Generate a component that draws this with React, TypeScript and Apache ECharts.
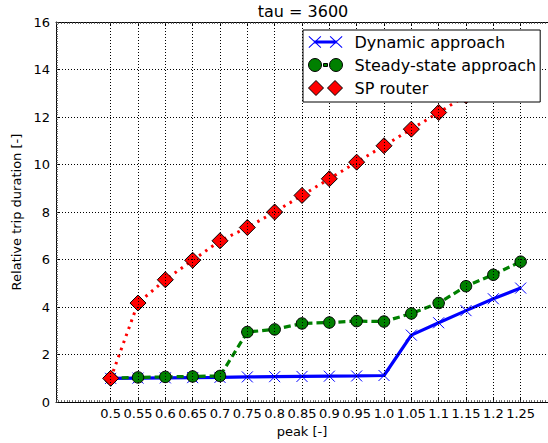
import React, { useEffect, useRef } from "react";
import * as echarts from "echarts";

const categories = ["0.5", "0.55", "0.6", "0.65", "0.7", "0.75", "0.8", "0.85", "0.9", "0.95", "1.0", "1.05", "1.1", "1.15", "1.2", "1.25"];
const dynamicApproach = [1.0, 1.01, 1.02, 1.03, 1.04, 1.06, 1.07, 1.08, 1.09, 1.1, 1.12, 2.82, 3.34, 3.85, 4.35, 4.8];
const steadyState = [1.0, 1.04, 1.06, 1.08, 1.1, 2.95, 3.06, 3.31, 3.35, 3.41, 3.39, 3.73, 4.17, 4.88, 5.36, 5.91];
const spRouter = [1.0, 4.17, 5.15, 5.97, 6.79, 7.35, 8.0, 8.7, 9.4, 10.1, 10.79, 11.49, 12.19, 12.9, 13.6, 14.3];
const yTicks = { min: 0, max: 16, interval: 2 };

const PAD_LEFT = ["_a", "_b"];
const PAD_RIGHT = ["_z"];

const FONT = "DejaVu Sans";

const ICON_DYN =
  "path://M6,6.5 L28,6.5 L28,9.5 L6,9.5 Z " +
  "M0.2,2.7 L0.9,2 L12.8,13.3 L12.1,14 Z M12.1,2 L12.8,2.7 L0.9,14 L0.2,13.3 Z " +
  "M21.2,2.7 L21.9,2 L33.8,13.3 L33.1,14 Z M33.1,2 L33.8,2.7 L21.9,14 L21.2,13.3 Z";
const ICON_STEADY =
  "path://M0,8 A6.5,6.5 0 1,0 13,8 A6.5,6.5 0 1,0 0,8 Z " +
  "M15,6.5 L19,6.5 L19,9.5 L15,9.5 Z " +
  "M21,8 A6.5,6.5 0 1,0 34,8 A6.5,6.5 0 1,0 21,8 Z";
const ICON_SP =
  "path://M0,8 L7.5,0.5 L15,8 L7.5,15.5 Z M19,8 L26.5,0.5 L34,8 L26.5,15.5 Z";

function pad(arr: number[]) {
  return [...PAD_LEFT.map(() => null), ...arr, ...PAD_RIGHT.map(() => null)];
}

export default function App() {
  const ref = useRef<HTMLDivElement>(null);
  useEffect(() => {
    if (!ref.current) return;
    const chart = echarts.init(ref.current, null, { renderer: "svg" });
    const axisCats = [...PAD_LEFT, ...categories, ...PAD_RIGHT];
    const isReal = (_i: number, v: string) => !String(v).startsWith("_");
    const dotted = { color: "#000", width: 1, type: [1, 2] as any };
    const minorAxisCommon = {
      type: "value" as const,
      min: 0,
      interval: 1,
      axisLabel: { show: false },
      splitLine: { show: false },
      axisLine: { show: false, onZero: false },
      axisTick: { show: true, inside: true, length: 2, lineStyle: { color: "#444", width: 0.8 } },
      z: 3,
      silent: true,
    };
    chart.setOption({
      animation: false,
      backgroundColor: "#fff",
      title: {
        text: "tau = 3600",
        left: 303,
        top: 3,
        padding: 0,
        textAlign: "center",
        textStyle: { fontFamily: FONT, fontSize: 16, fontWeight: "normal", color: "#000" },
      },
      legend: {
        orient: "vertical",
        left: 303,
        top: 30,
        padding: [4, 4, 6, 5],
        itemGap: 7,
        itemWidth: 34,
        itemHeight: 16,
        backgroundColor: "#fff",
        borderColor: "#000",
        borderWidth: 1,
        borderRadius: 0,
        z: 20,
        selectedMode: false,
        textStyle: { fontFamily: FONT, fontSize: 16, color: "#000", lineHeight: 16, padding: [0, 0, 0, 7] },
        data: [
          { name: "Dynamic approach", icon: ICON_DYN, itemStyle: { color: "#0000ff", borderWidth: 0 } },
          { name: "Steady-state approach", icon: ICON_STEADY, itemStyle: { color: "#008000", borderColor: "#000", borderWidth: 1 } },
          { name: "SP router", icon: ICON_SP, itemStyle: { color: "#ff0000", borderColor: "#000", borderWidth: 1 } },
        ],
      },
      grid: { left: 56, top: 22, right: -2, bottom: 38, containLabel: false },
      xAxis: [
        {
          type: "category",
          data: axisCats,
          boundaryGap: false,
          position: "bottom",
          name: "peak [-]",
          nameLocation: "middle",
          nameGap: 22,
          nameTextStyle: { fontFamily: FONT, fontSize: 13, color: "#000" },
          axisLine: { show: true, onZero: false, lineStyle: { color: "#000", width: 1 } },
          axisTick: { show: true, inside: true, length: 4, interval: isReal, lineStyle: { color: "#000" } },
          axisLabel: { show: true, interval: isReal, margin: 5, fontFamily: FONT, fontSize: 13, color: "#000" },
          splitLine: { show: true, interval: isReal, lineStyle: dotted },
          z: 3,
        },
        {
          type: "category",
          data: axisCats,
          boundaryGap: false,
          position: "top",
          axisLine: { show: true, onZero: false, lineStyle: { color: "#000", width: 1 } },
          axisTick: { show: true, inside: true, length: 4, interval: isReal, lineStyle: { color: "#000" } },
          axisLabel: { show: false },
          splitLine: { show: false },
          z: 3,
        },
        { ...minorAxisCommon, position: "bottom", max: 180 },
        { ...minorAxisCommon, position: "top", max: 180 },
      ],
      yAxis: [
        {
          type: "value",
          min: yTicks.min,
          max: yTicks.max,
          interval: yTicks.interval,
          position: "left",
          name: "Relative trip duration [-]",
          nameLocation: "middle",
          nameGap: 25,
          nameTextStyle: { fontFamily: FONT, fontSize: 13, color: "#000" },
          axisLine: { show: true, onZero: false, lineStyle: { color: "#000", width: 1 } },
          axisTick: { show: true, inside: true, length: 4, lineStyle: { color: "#000" } },
          axisLabel: { margin: 6, fontFamily: FONT, fontSize: 13, color: "#000" },
          splitLine: { show: true, lineStyle: dotted },
          z: 3,
        },
        { ...minorAxisCommon, position: "left", max: 160 },
      ],
      series: [
        {
          name: "Dynamic approach",
          type: "line",
          xAxisIndex: 0,
          yAxisIndex: 0,
          data: pad(dynamicApproach),
          symbol: "path://M0,0L10,10M10,0L0,10",
          symbolSize: 11,
          showAllSymbol: true,
          lineStyle: { color: "#0000ff", width: 3.2, type: "solid" },
          itemStyle: { color: "#0000ff", borderColor: "#0000ff", borderWidth: 1 },
          z: 2,
        },
        {
          name: "Steady-state approach",
          type: "line",
          xAxisIndex: 0,
          yAxisIndex: 0,
          data: pad(steadyState),
          symbol: "circle",
          symbolSize: 11.5,
          showAllSymbol: true,
          lineStyle: { color: "#008000", width: 3.2, type: [7, 4] },
          itemStyle: { color: "#008000", borderColor: "#000", borderWidth: 1 },
          z: 2,
        },
        {
          name: "SP router",
          type: "line",
          xAxisIndex: 0,
          yAxisIndex: 0,
          data: pad(spRouter),
          symbol: "diamond",
          symbolSize: 16,
          showAllSymbol: true,
          lineStyle: { color: "#ff0000", width: 3, type: [2.5, 5] },
          itemStyle: { color: "#ff0000", borderColor: "#000", borderWidth: 1 },
          z: 2,
        },
      ],
    });
    return () => chart.dispose();
  }, []);
  return <div ref={ref} style={{ position: "absolute", left: 0, top: 0, width: 548, height: 443 }} />;
}
